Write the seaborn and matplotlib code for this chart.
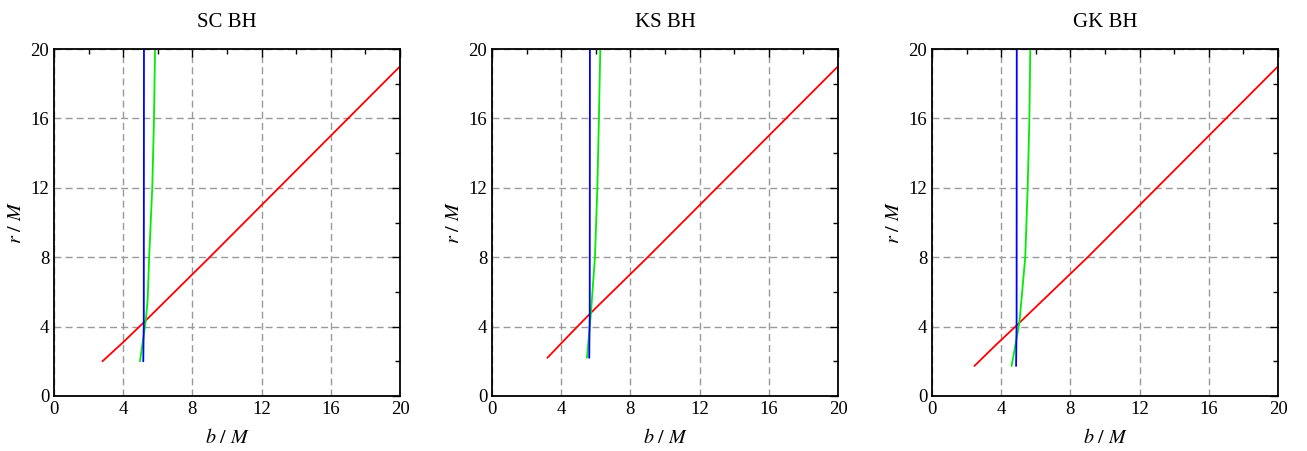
import numpy as np
import pandas as pd
import matplotlib
matplotlib.use("Agg")
import matplotlib.pyplot as plt
import seaborn as sns
from matplotlib.ticker import MultipleLocator

# ---- data ----
panels = ["SC BH", "KS BH", "GK BH"]

# red curves (b, r)
red_b_sc = [2.8, 4.0, 5.25, 9.0, 13.0, 17.0, 20.0]
red_r_sc = [2.0, 3.1, 4.3, 8.0, 12.0, 16.0, 19.0]
red_b_ks = [3.2, 4.4, 5.72, 9.0, 13.0, 17.0, 20.0]
red_r_ks = [2.2, 3.45, 4.8, 8.0, 12.0, 16.0, 19.0]
red_b_gk = [2.45, 3.7, 5.03, 9.0, 13.0, 17.0, 20.0]
red_r_gk = [1.73, 2.95, 4.2, 8.0, 12.0, 16.0, 19.0]

# green curves (b, r)
green_b_sc = [4.97, 5.3, 5.41, 5.5, 5.68, 5.78, 5.84]
green_r_sc = [2.0, 4.3, 5.5, 8.0, 12.0, 16.0, 20.0]
green_b_ks = [5.49, 5.72, 5.95, 6.09, 6.18, 6.26]
green_r_ks = [2.2, 4.8, 8.0, 12.0, 16.0, 20.0]
green_b_gk = [4.6, 5.05, 5.39, 5.53, 5.63, 5.68]
green_r_gk = [1.73, 4.2, 8.0, 12.0, 16.0, 20.0]

# blue curves (b, r)
blue_b_sc = [5.16, 5.19, 5.2]
blue_r_sc = [2.0, 4.3, 20.0]
blue_b_ks = [5.62, 5.65, 5.66]
blue_r_ks = [2.2, 4.8, 20.0]
blue_b_gk = [4.86, 4.89, 4.9]
blue_r_gk = [1.73, 4.2, 20.0]

ticks = [0, 4, 8, 12, 16, 20]

data = {
    "SC BH": [(red_b_sc, red_r_sc, "red"), (green_b_sc, green_r_sc, "green"), (blue_b_sc, blue_r_sc, "blue")],
    "KS BH": [(red_b_ks, red_r_ks, "red"), (green_b_ks, green_r_ks, "green"), (blue_b_ks, blue_r_ks, "blue")],
    "GK BH": [(red_b_gk, red_r_gk, "red"), (green_b_gk, green_r_gk, "green"), (blue_b_gk, blue_r_gk, "blue")],
}
colors = {"red": "#ff0000", "green": "#00ee00", "blue": "#0000ff"}

sns.set_style("white")
plt.rcParams["font.family"] = ["Liberation Serif", "DejaVu Serif"]
plt.rcParams["mathtext.fontset"] = "stix"
plt.rcParams["text.color"] = "black"
plt.rcParams["axes.labelcolor"] = "black"

fig = plt.figure(figsize=(13.07, 4.51), dpi=100)
lefts = [54, 492, 932]
for name, lx in zip(panels, lefts):
    ax = fig.add_axes([lx / 1307, (451 - 396) / 451, 346 / 1307, 347 / 451])
    rows = []
    for b, r, c in data[name]:
        for i, (bb, rr) in enumerate(zip(b, r)):
            rows.append({"b": bb, "r": rr, "curve": c, "i": i})
    df = pd.DataFrame(rows)
    for c in ["red", "green", "blue"]:
        sub = df[df.curve == c]
        sns.lineplot(data=sub, x="b", y="r", sort=False, estimator=None,
                     color=colors[c], lw=1.3, ax=ax)
    ax.set_xlim(0, 20)
    ax.set_ylim(0, 20)
    ax.set_xticks(ticks)
    ax.set_yticks(ticks)
    ax.xaxis.set_minor_locator(MultipleLocator(2))
    ax.yaxis.set_minor_locator(MultipleLocator(2))
    ax.tick_params(which="both", direction="in", top=True, right=True,
                   labelsize=13.5, colors="black", labelcolor="black")
    ax.tick_params(which="major", length=6, width=1)
    ax.tick_params(which="minor", length=3.5, width=1)
    ax.grid(True, which="major", linestyle=(0, (5, 3)), color="#999999", lw=1)
    for s in ax.spines.values():
        s.set_color("black")
        s.set_linewidth(1.3)
    ax.set_xlabel(r"$b\ /\ M$", fontsize=14.5, labelpad=8, color="black")
    ax.set_ylabel(r"$r\ /\ M$", fontsize=14.5, labelpad=3, color="black")
    ax.set_title(name, fontsize=15, pad=16, color="black")

fig.savefig("out.png", dpi=100)
